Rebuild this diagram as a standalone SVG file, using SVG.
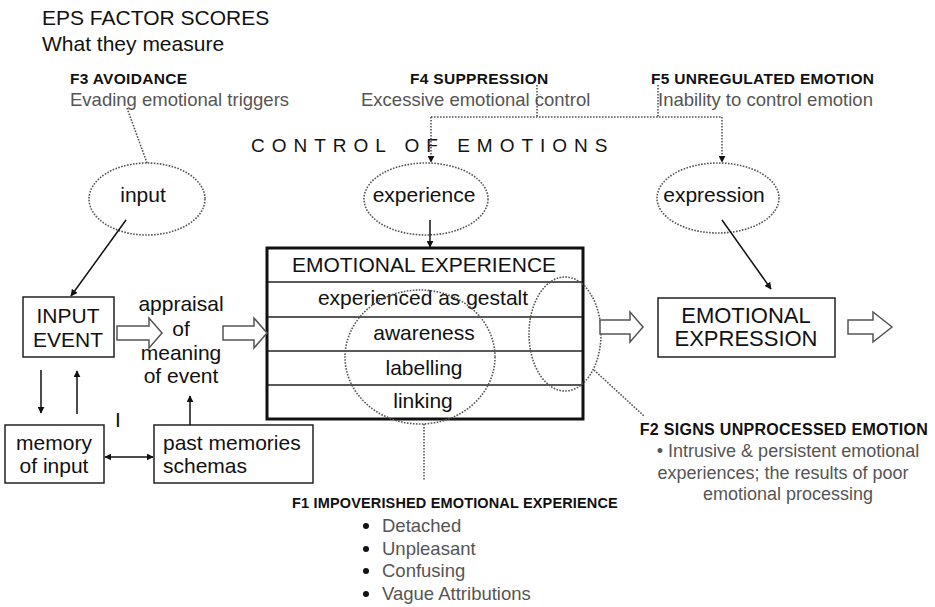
<svg xmlns="http://www.w3.org/2000/svg" width="935" height="607" viewBox="0 0 935 607">
<defs>
<style>
text{font-family:"Liberation Sans",Arial,sans-serif;fill:#111}
.title{font-size:21px}
.lab{font-size:15.5px;font-weight:bold;letter-spacing:0.3px}
.sub{font-size:18.5px;fill:#555}
.big{font-size:21px}
.c{text-anchor:middle}
.box{fill:#fff;stroke:#222;stroke-width:1.5}
.dot{fill:none;stroke:#555;stroke-width:1.6;stroke-dasharray:1.6 1.4}
.line{fill:none;stroke:#111;stroke-width:1.5}
.hol{fill:#fff;stroke:#555;stroke-width:1.5}
.row{stroke:#222;stroke-width:1.5}
</style>
<marker id="ah" viewBox="0 0 10 10" refX="9" refY="5" markerWidth="7" markerHeight="7" orient="auto-start-reverse" markerUnits="userSpaceOnUse">
<path d="M0,0 L10,5 L0,10 z" fill="#111"/>
</marker>
</defs>
<rect width="935" height="607" fill="#fff"/>

<g id="title">
<text class="title" x="42" y="25">EPS FACTOR SCORES</text>
<text class="title" x="42" y="51">What they measure</text>
</g>

<g id="f3">
<text class="lab" x="70" y="84">F3 AVOIDANCE</text>
<text class="sub" x="70" y="106">Evading emotional triggers</text>
</g>
<g id="f4">
<text class="lab" x="410" y="84">F4 SUPPRESSION</text>
<text class="sub" x="361" y="106">Excessive emotional control</text>
</g>
<g id="f5">
<text class="lab" x="651" y="84">F5 UNREGULATED EMOTION</text>
<text class="sub" x="658" y="106">Inability to control emotion</text>
</g>

<g id="control">
<text x="251" y="152" style="font-size:19px;letter-spacing:7px">CONTROL OF EMOTIONS</text>
</g>

<g id="input-ellipse">
<ellipse class="dot" cx="147" cy="199" rx="58" ry="36"/>
<text class="big c" x="143" y="202">input</text>
</g>
<g id="experience-ellipse">
<ellipse class="dot" cx="426" cy="199" rx="62" ry="36"/>
<text class="big c" x="424" y="202">experience</text>
</g>
<g id="expression-ellipse">
<ellipse class="dot" cx="718" cy="198" rx="61" ry="35"/>
<text class="big c" x="714" y="202">expression</text>
</g>

<g id="input-event">
<rect class="box" x="23" y="297" width="91" height="60"/>
<text class="big c" x="68" y="323">INPUT</text>
<text class="big c" x="68" y="347">EVENT</text>
</g>

<g id="appraisal">
<text class="big c" x="181" y="311">appraisal</text>
<text class="big c" x="181" y="336">of</text>
<text class="big c" x="181" y="360">meaning</text>
<text class="big c" x="181" y="383">of event</text>
</g>

<g id="memory">
<rect class="box" x="5" y="425" width="99" height="58"/>
<text class="big c" x="54" y="450">memory</text>
<text class="big c" x="54" y="473">of input</text>
</g>

<g id="past">
<rect class="box" x="154" y="425" width="159" height="58"/>
<text class="big" x="163" y="450">past memories</text>
<text class="big" x="163" y="473">schemas</text>
</g>

<g id="i-mark">
<text class="big" x="115" y="427">I</text>
</g>

<g id="emotional-experience">
<rect x="267" y="248" width="316" height="171" fill="#fff" stroke="#111" stroke-width="3"/>
<line class="row" x1="268" y1="282" x2="582" y2="282"/>
<line class="row" x1="268" y1="317" x2="582" y2="317"/>
<line class="row" x1="268" y1="351" x2="582" y2="351"/>
<line class="row" x1="268" y1="385" x2="582" y2="385"/>
<text class="big c" x="424" y="272">EMOTIONAL EXPERIENCE</text>
<text class="big c" x="423" y="305">experienced as gestalt</text>
<text class="big c" x="424" y="340">awareness</text>
<text class="big c" x="424" y="375">labelling</text>
<text class="big c" x="423" y="408">linking</text>
</g>

<g id="f1-circle">
<ellipse class="dot" cx="420" cy="357" rx="75" ry="67"/>
</g>
<g id="f2-ellipse">
<ellipse class="dot" cx="565" cy="334" rx="36" ry="57"/>
</g>

<g id="emotional-expression">
<rect class="box" x="658" y="298" width="177" height="59"/>
<text class="c" x="746" y="323" style="font-size:22px">EMOTIONAL</text>
<text class="c" x="746" y="346" style="font-size:22px">EXPRESSION</text>
</g>

<g id="f2">
<text class="lab c" x="784" y="435" style="font-size:16px">F2 SIGNS UNPROCESSED EMOTION</text>
<text class="sub c" x="788" y="457" style="font-size:18px">• Intrusive &amp; persistent emotional</text>
<text class="sub c" x="783" y="479" style="font-size:18px">experiences; the results of poor</text>
<text class="sub c" x="788" y="500" style="font-size:18px">emotional processing</text>
</g>

<g id="f1">
<text class="lab c" x="455" y="508" style="font-size:14.5px;letter-spacing:0.15px">F1 IMPOVERISHED EMOTIONAL EXPERIENCE</text>
<circle cx="366" cy="526" r="3" fill="#111"/>
<circle cx="366" cy="549" r="3" fill="#111"/>
<circle cx="366" cy="571" r="3" fill="#111"/>
<circle cx="366" cy="594" r="3" fill="#111"/>
<text class="sub" x="382" y="532">Detached</text>
<text class="sub" x="382" y="555">Unpleasant</text>
<text class="sub" x="382" y="577">Confusing</text>
<text class="sub" x="382" y="600">Vague Attributions</text>
</g>

<g id="connectors">
<path class="dot" d="M127,108 L147,163"/>
<path class="dot" d="M537,85 V117"/>
<path class="dot" d="M658,85 V117"/>
<path class="dot" d="M431,117 H722"/>
<path class="dot" d="M431,117 V162" marker-end="url(#ah)"/>
<path class="dot" d="M722,117 V162" marker-end="url(#ah)"/>
<path class="dot" d="M594,370 L644,416"/>
<path class="dot" d="M424,424 V480"/>
<path class="line" d="M126,220 L71,296" marker-end="url(#ah)"/>
<path class="line" d="M430,220 V247" marker-end="url(#ah)"/>
<path class="line" d="M722,220 L771,289" marker-end="url(#ah)"/>
<path class="line" d="M41,370 V413" marker-end="url(#ah)"/>
<path class="line" d="M77,414 V371" marker-end="url(#ah)"/>
<path class="line" d="M105,457 H153" marker-start="url(#ah)" marker-end="url(#ah)"/>
<path class="line" d="M190,425 V396" marker-end="url(#ah)"/>
<polygon class="hol" points="117,326 149,326 149,318 162,333 149,348 149,340 117,340"/>
<polygon class="hol" points="223,326 254,326 254,318 267,333 254,348 254,340 223,340"/>
<polygon class="hol" points="600,320 630,320 630,312 643,327 630,342 630,334 600,334"/>
<polygon class="hol" points="848,320 873,320 873,312 892,327 873,342 873,334 848,334"/>
</g>
</svg>
